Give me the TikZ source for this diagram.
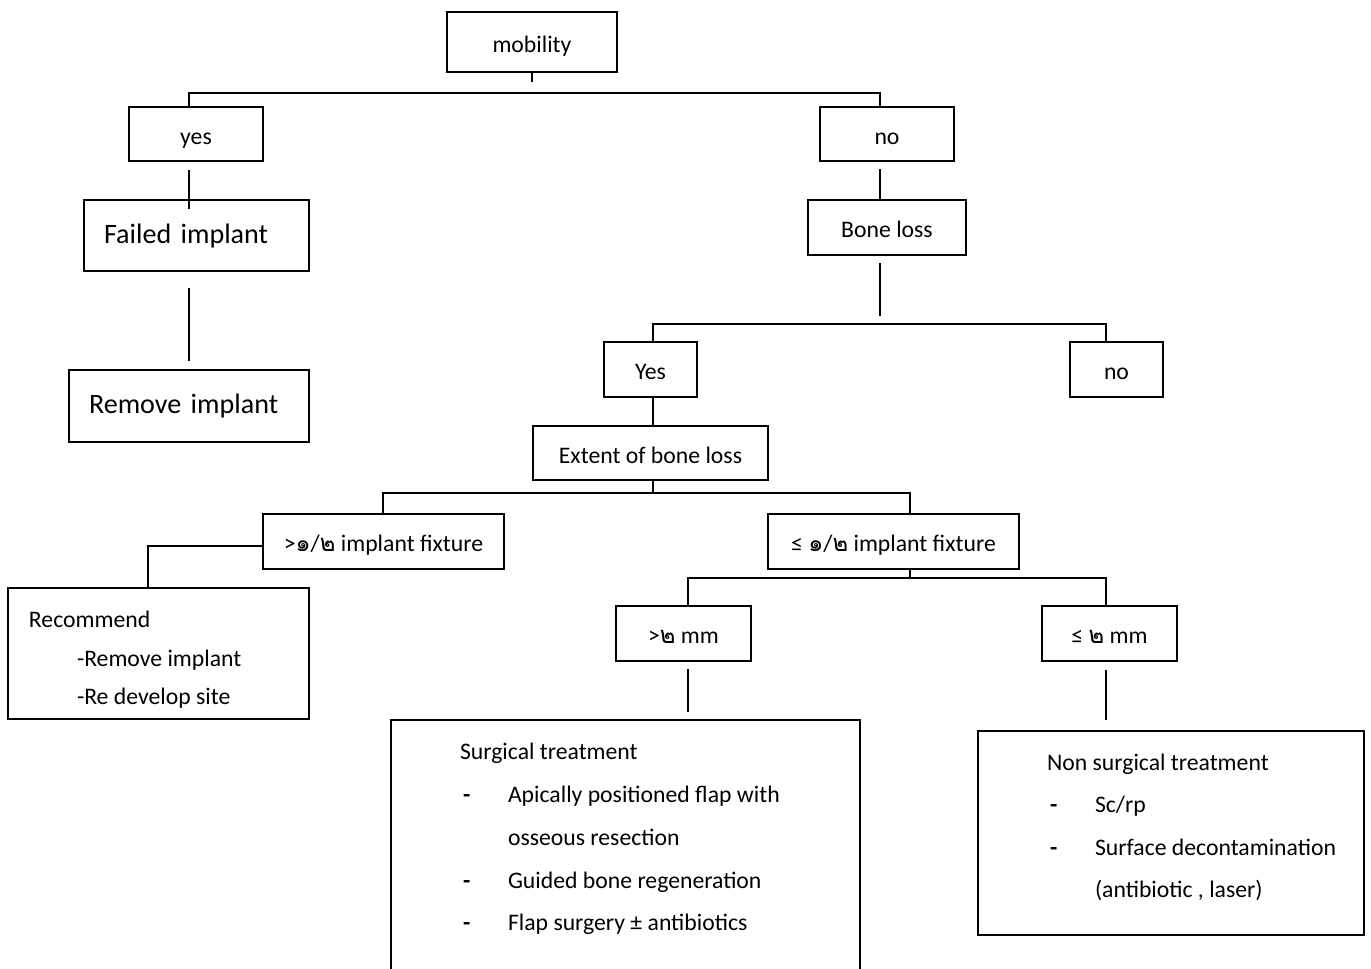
\documentclass[tikz,border=0pt]{standalone}
\usepackage{fontspec}
\setmainfont{Carlito}
\newfontfamily\thaifont[Script=Thai]{Loma}
\usepackage{tikz}
\newlength\pxu
\setlength{\pxu}{0.02cm}
\newcommand{\thd}[1]{{\thaifont #1}}
\newcommand{\dashitem}[1]{\hspace*{3\pxu}\makebox[45\pxu][l]{\textbf{-}}\mbox{#1}}
\tikzset{
    box/.style={draw, line width=1.1pt, inner sep=0pt, minimum height=55*\pxu,
             font=\fontsize{13.5}{16}\selectfont, text height=12pt, text depth=0.6pt},
    bigbox/.style={box, font=\fontsize{16}{19}\selectfont, align=left,
             inner xsep=20*\pxu, text height=11pt, text depth=2pt},
    textbox/.style={box, text height=, text depth=, inner xsep=#1*\pxu, inner ysep=23*\pxu},
    link/.style={draw, line width=0.9pt}
  }
\begin{document}
\begin{tikzpicture}[x=0.02cm, y=-0.02cm]
 \useasboundingbox (0,0) rectangle (1371,968);
 \clip (0,0) rectangle (1371,968);
 %top question
     \node[box, minimum width=170*\pxu, minimum height=60*\pxu] (mob) at (532,42) {mobility};
     \node[box, minimum width=134*\pxu, minimum height=54*\pxu] (yes) at (196,134) {yes};
     \node[box, minimum width=134*\pxu, minimum height=54*\pxu] (no) at (887,134) {no};
 %mobile implant
     \node[bigbox, text width=185*\pxu, minimum height=71*\pxu] (fail) at (196.5,235.5) {Failed implant};
     \node[bigbox, text width=200*\pxu, minimum height=72*\pxu] (remove) at (189,406) {Remove implant};
 %no mobility
     \node[box, minimum width=158*\pxu] (bone) at (887,227.5) {Bone loss};
     \node[box, minimum width=93*\pxu] (byes) at (650.5,369.5) {Yes};
     \node[box, minimum width=93*\pxu] (bno) at (1116.5,369.5) {no};
     \node[box, minimum width=235*\pxu, minimum height=54*\pxu] (ext) at (650.5,453) {Extent of bone loss};
     \node[box, minimum width=241*\pxu] (gt) at (383.5,541.5) {>\thd{๑}/\thd{๒} implant fixture};
     \node[box, minimum width=251*\pxu] (le) at (893.5,541.5) {≤ \thd{๑}/\thd{๒} implant fixture};
     \node[box, minimum width=135*\pxu] (gtmm) at (683.5,633.5) {>\thd{๒} mm};
     \node[box, minimum width=135*\pxu] (lemm) at (1109.5,633.5) {≤ \thd{๒} mm};
 %treatment boxes
     \node[textbox=21] (rec) at (158.5,653.5)
         {\begin{minipage}[t][85\pxu][t]{259\pxu}\fontsize{13.5}{22}\selectfont
          Recommend\\
          \hspace*{48\pxu}-Remove implant\\
          \hspace*{48\pxu}-Re develop site\end{minipage}};
     \node[textbox=69] (surg) at (625.5,860)
         {\begin{minipage}[t][234\pxu][t]{331\pxu}\fontsize{13.5}{24.4}\selectfont
          Surgical treatment\\
          \dashitem{Apically positioned flap with}\\
          \hspace*{48\pxu}\mbox{osseous resection}\\
          \dashitem{Guided bone regeneration}\\
          \dashitem{Flap surgery ± antibiotics}\end{minipage}};
     \node[textbox=69] (nons) at (1171,833)
         {\begin{minipage}[t][158\pxu][t]{248\pxu}\fontsize{13.5}{24.1}\selectfont
          \mbox{Non surgical treatment}\\
          \dashitem{Sc/rp}\\
          \dashitem{Surface decontamination}\\
          \hspace*{48\pxu}\mbox{(antibiotic , laser)}\end{minipage}};
 %joints
     \coordinate (m1) at (532,82);
     \coordinate (m2) at (189,93);
     \coordinate (m3) at (880,93);
     \coordinate (y1) at (189,170);
     \coordinate (y2) at (189,209);
     \coordinate (f1) at (189,288);
     \coordinate (f2) at (189,361);
     \coordinate (n1) at (880,169);
     \coordinate (b1) at (880,263);
     \coordinate (b2) at (880,316);
     \coordinate (b3) at (653,324);
     \coordinate (b4) at (1106,324);
     \coordinate (e1) at (653,493);
     \coordinate (e2) at (383,493);
     \coordinate (e3) at (910,493);
     \coordinate (g1) at (148,546);
     \coordinate (l1) at (910,578);
     \coordinate (l2) at (688,578);
     \coordinate (l3) at (1106,578);
     \coordinate (s1) at (688,669);
     \coordinate (s2) at (688,712);
     \coordinate (t1) at (1106,670);
     \coordinate (t2) at (1106,720);
 %mobility split
     \draw[link] (mob.south) -- (m1);
     \draw[link] (yes.north -| m2) -- (m2) -- (m3) -- (no.north -| m3);
 %yes branch
     \draw[link] (y1) -- (y2);
     \draw[link] (f1) -- (f2);
 %no branch
     \draw[link] (n1) -- (bone.north -| n1);
     \draw[link] (b1) -- (b2);
     \draw[link] (byes.north -| b3) -- (b3) -- (b4) -- (bno.north -| b4);
     \draw[link] (byes.south -| b3) -- (ext.north -| b3);
 %extent split
     \draw[link] (ext.south -| e1) -- (e1);
     \draw[link] (gt.north -| e2) -- (e2) -- (e3) -- (le.north -| e3);
     \draw[link] (gt.west |- g1) -- (g1) -- (rec.north -| g1);
 %mm split
     \draw[link] (le.south -| l1) -- (l1);
     \draw[link] (gtmm.north -| l2) -- (l2) -- (l3) -- (lemm.north -| l3);
     \draw[link] (s1) -- (s2);
     \draw[link] (t1) -- (t2);
 \end{tikzpicture}
\end{document}
